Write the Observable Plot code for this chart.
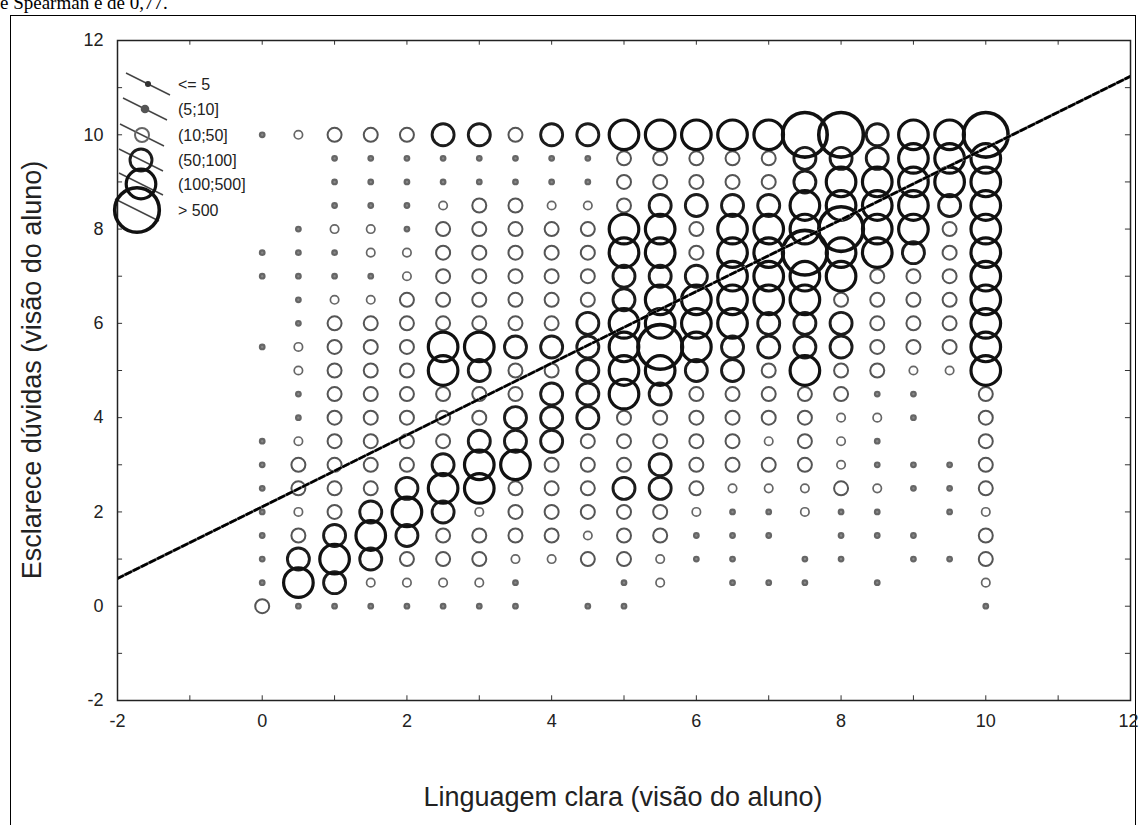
<!DOCTYPE html>
<html>
<head>
<meta charset="utf-8">
<script src="https://cdn.jsdelivr.net/npm/d3@7"></script>
<script src="https://cdn.jsdelivr.net/npm/@observablehq/plot@0.6"></script>
<style>
  html, body { margin: 0; padding: 0; background: #fff; width: 1139px; height: 825px; overflow: hidden; }
  #wrap { position: relative; width: 1139px; height: 825px; }
  #border { position: absolute; left: 10px; top: 15px; width: 1126px; height: 840px; border: 1.5px solid #000; box-sizing: border-box; }
  #toptext { position: absolute; left: 0px; top: -8px; font-family: "Liberation Serif", "DejaVu Serif", serif; font-size: 19px; color: #000; white-space: nowrap; }
  #chart { position: absolute; left: 0; top: 0; }
  .axtitle { position: absolute; font-family: "Liberation Sans", Arial, sans-serif; font-size: 27px; color: #222; white-space: nowrap; }
  #xtitle { left: 0; width: 1246px; text-align: center; top: 782px; }
  #ytitle { left: 32px; top: 370px; transform: translate(-50%, -50%) rotate(-90deg); }
  #legend { position: absolute; left: 0; top: 0; pointer-events: none; }
</style>
</head>
<body>
<div id="wrap">
  <div id="toptext">e Spearman é de 0,77.</div>
  <div id="border"></div>
  <div id="chart"></div>
  <div class="axtitle" id="xtitle">Linguagem clara (visão do aluno)</div>
  <div class="axtitle" id="ytitle">Esclarece dúvidas (visão do aluno)</div>
  <svg id="legend" width="1139" height="825"></svg>
</div>
<script>
// ---- Data ----
const xCats = [0, 0.5, 1, 1.5, 2, 2.5, 3, 3.5, 4, 4.5, 5, 5.5, 6, 6.5, 7, 7.5, 8, 8.5, 9, 9.5, 10];
const yLevels = [10, 9.5, 9, 8.5, 8, 7.5, 7, 6.5, 6, 5.5, 5, 4.5, 4, 3.5, 3, 2.5, 2, 1.5, 1, 0.5, 0];
const classLabels = ["<= 5", "(5;10]", "(10;50]", "(50;100]", "(100;500]", "> 500"];
const axisTicks = [-2, 0, 2, 4, 6, 8, 10, 12];
const minorTicks = [-2, -1, 0, 1, 2, 3, 4, 5, 6, 7, 8, 9, 10, 11, 12];
// frequency class per cell (0 = empty, 1..6 = classLabels), one array per y level, columns follow xCats
const y10_0 = [1, 2, 3, 3, 3, 4, 4, 3, 4, 4, 5, 5, 5, 5, 5, 6, 6, 4, 5, 5, 6];
const y9_5 = [0, 0, 1, 1, 1, 1, 1, 1, 1, 1, 3, 3, 3, 3, 3, 4, 4, 4, 5, 5, 5];
const y9_0 = [0, 0, 1, 1, 1, 1, 1, 1, 1, 1, 3, 3, 3, 3, 3, 4, 5, 5, 5, 5, 5];
const y8_5 = [0, 0, 1, 1, 1, 2, 3, 3, 2, 2, 3, 4, 4, 4, 4, 5, 5, 5, 5, 4, 5];
const y8_0 = [0, 1, 2, 2, 1, 3, 3, 3, 3, 3, 5, 5, 3, 5, 5, 5, 6, 5, 5, 3, 5];
const y7_5 = [1, 1, 1, 2, 2, 3, 3, 3, 3, 3, 5, 5, 3, 5, 5, 6, 5, 5, 4, 3, 5];
const y7_0 = [1, 1, 1, 1, 2, 3, 3, 3, 3, 3, 4, 4, 4, 5, 5, 5, 5, 3, 3, 3, 5];
const y6_5 = [0, 1, 2, 2, 3, 3, 3, 3, 3, 3, 4, 5, 5, 5, 5, 5, 3, 3, 3, 3, 5];
const y6_0 = [0, 1, 3, 3, 3, 3, 3, 3, 3, 4, 5, 5, 5, 5, 4, 4, 4, 3, 3, 3, 5];
const y5_5 = [1, 2, 3, 3, 3, 5, 5, 4, 4, 4, 5, 6, 5, 4, 4, 4, 4, 3, 3, 3, 5];
const y5_0 = [0, 2, 3, 3, 3, 5, 4, 3, 3, 4, 5, 5, 4, 4, 3, 5, 3, 3, 2, 2, 5];
const y4_5 = [0, 1, 3, 3, 3, 3, 3, 3, 4, 4, 5, 4, 3, 3, 3, 3, 3, 1, 1, 0, 3];
const y4_0 = [0, 1, 3, 3, 3, 3, 3, 4, 4, 4, 3, 3, 3, 3, 3, 3, 2, 2, 1, 0, 3];
const y3_5 = [1, 2, 3, 3, 3, 3, 4, 4, 4, 3, 3, 3, 3, 3, 2, 3, 2, 1, 0, 0, 3];
const y3_0 = [1, 3, 3, 3, 3, 4, 5, 5, 3, 3, 3, 4, 3, 3, 3, 3, 2, 1, 1, 1, 3];
const y2_5 = [1, 3, 3, 3, 4, 5, 5, 3, 3, 3, 4, 4, 3, 2, 2, 2, 3, 2, 1, 1, 3];
const y2_0 = [1, 2, 3, 4, 5, 4, 2, 3, 3, 3, 3, 3, 2, 1, 1, 2, 1, 1, 0, 1, 2];
const y1_5 = [1, 3, 4, 5, 4, 3, 3, 3, 3, 2, 3, 3, 1, 1, 1, 0, 1, 1, 1, 0, 3];
const y1_0 = [1, 4, 5, 4, 3, 3, 3, 2, 2, 3, 3, 2, 1, 1, 0, 1, 1, 0, 1, 1, 3];
const y0_5 = [1, 5, 4, 2, 2, 2, 2, 1, 0, 0, 1, 2, 0, 1, 1, 1, 0, 1, 0, 0, 2];
const y0_0 = [3, 1, 1, 1, 1, 1, 1, 1, 0, 1, 1, 0, 0, 0, 0, 0, 0, 0, 0, 0, 1];
// fitted line
const fitIntercept = 2.11;
const fitSlope = 0.761;

// ---- Styles ----
const classR = [0, 2.3, 4.2, 7.0, 11.0, 14.8, 22.3];
const classSW = [0, 2.2, 1.7, 2.0, 2.9, 3.2, 3.6];
const classStroke = [0, "#666", "#666", "#555", "#1c1c1c", "#111", "#111"];

const rows = [y10_0, y9_5, y9_0, y8_5, y8_0, y7_5, y7_0, y6_5, y6_0, y5_5, y5_0, y4_5, y4_0, y3_5, y3_0, y2_5, y2_0, y1_5, y1_0, y0_5, y0_0];
const cells = [];
rows.forEach((row, i) => row.forEach((c, j) => { if (c > 0) cells.push({x: xCats[j], y: yLevels[i], c}); }));

const fitLine = [-2, 12].map(x => ({x, y: fitIntercept + fitSlope * x}));

const dotMarks = [1, 2, 3, 4, 5, 6].map(k => Plot.dot(cells.filter(d => d.c === k), {
  x: "x", y: "y", r: classR[k], stroke: classStroke[k], strokeWidth: classSW[k], fill: k === 1 ? "#888" : "none"
}));

const xInner = axisTicks.slice(0, -1);
const xLast = axisTicks.slice(-1);

const chart = Plot.plot({
  width: 1139, height: 825,
  marginLeft: 117, marginRight: 9, marginTop: 40, marginBottom: 125,
  style: {fontFamily: "'Liberation Sans', Arial, sans-serif", fontSize: "18px", color: "#222", background: "transparent"},
  x: {domain: [-2, 12]},
  y: {domain: [-2, 12]},
  marks: [
    ...dotMarks,
    Plot.line(fitLine, {x: "x", y: "y", stroke: "#8a8a8a", strokeWidth: 3, clip: true}),
    Plot.line(fitLine, {x: "x", y: "y", stroke: "#000", strokeWidth: 2.6, strokeDasharray: "6,3", clip: true}),
    Plot.ruleX(minorTicks, {x: d => d, y1: -2, y2: -1.9, stroke: "#333"}),
    Plot.ruleX(minorTicks, {x: d => d, y1: 12, y2: 11.9, stroke: "#333"}),
    Plot.ruleY(minorTicks, {y: d => d, x1: -2, x2: -1.93, stroke: "#333"}),
    Plot.ruleY(minorTicks, {y: d => d, x1: 12, x2: 11.93, stroke: "#333"}),
    Plot.axisX(xInner, {tickSize: 0, tickPadding: 14, label: null, fontSize: 18, tickFormat: d => String(d)}),
    Plot.axisX(xLast, {tickSize: 0, tickPadding: 14, label: null, fontSize: 18, textAnchor: "end", dx: 8, tickFormat: d => String(d)}),
    Plot.axisY(axisTicks, {tickSize: 0, tickPadding: 14, label: null, fontSize: 18, tickFormat: d => String(d)}),
    Plot.frame({stroke: "#222", strokeWidth: 1.5})
  ]
});
document.getElementById("chart").appendChild(chart);

// ---- Legend (overlay) ----
const legendY = [84, 109, 135, 160, 184, 210];
const legendCx = [148, 145, 142, 141, 141, 137];
const legendR = [2.3, 3.3, 7.0, 11.0, 14.8, 22.3];
const legendSW = [1.5, 2, 2.0, 2.9, 3.2, 3.6];
const legendStroke = ["#333", "#555", "#666", "#1c1c1c", "#111", "#111"];
const lg = d3.select("#legend");
classLabels.forEach((lab, i) => {
  const cx = legendCx[i], cy = legendY[i];
  lg.append("line").attr("x1", cx - 22).attr("y1", cy - 11).attr("x2", cx + 22).attr("y2", cy + 11)
    .attr("stroke", "#444").attr("stroke-width", 1.4);
  lg.append("circle").attr("cx", cx).attr("cy", cy).attr("r", legendR[i])
    .attr("fill", i < 2 ? legendStroke[i] : "none").attr("stroke", legendStroke[i]).attr("stroke-width", legendSW[i]);
  lg.append("text").attr("x", 178).attr("y", cy).attr("dy", "0.35em")
    .attr("font-family", "'Liberation Sans', Arial, sans-serif").attr("font-size", 16).attr("fill", "#222").text(lab);
});
</script>
</body>
</html>
